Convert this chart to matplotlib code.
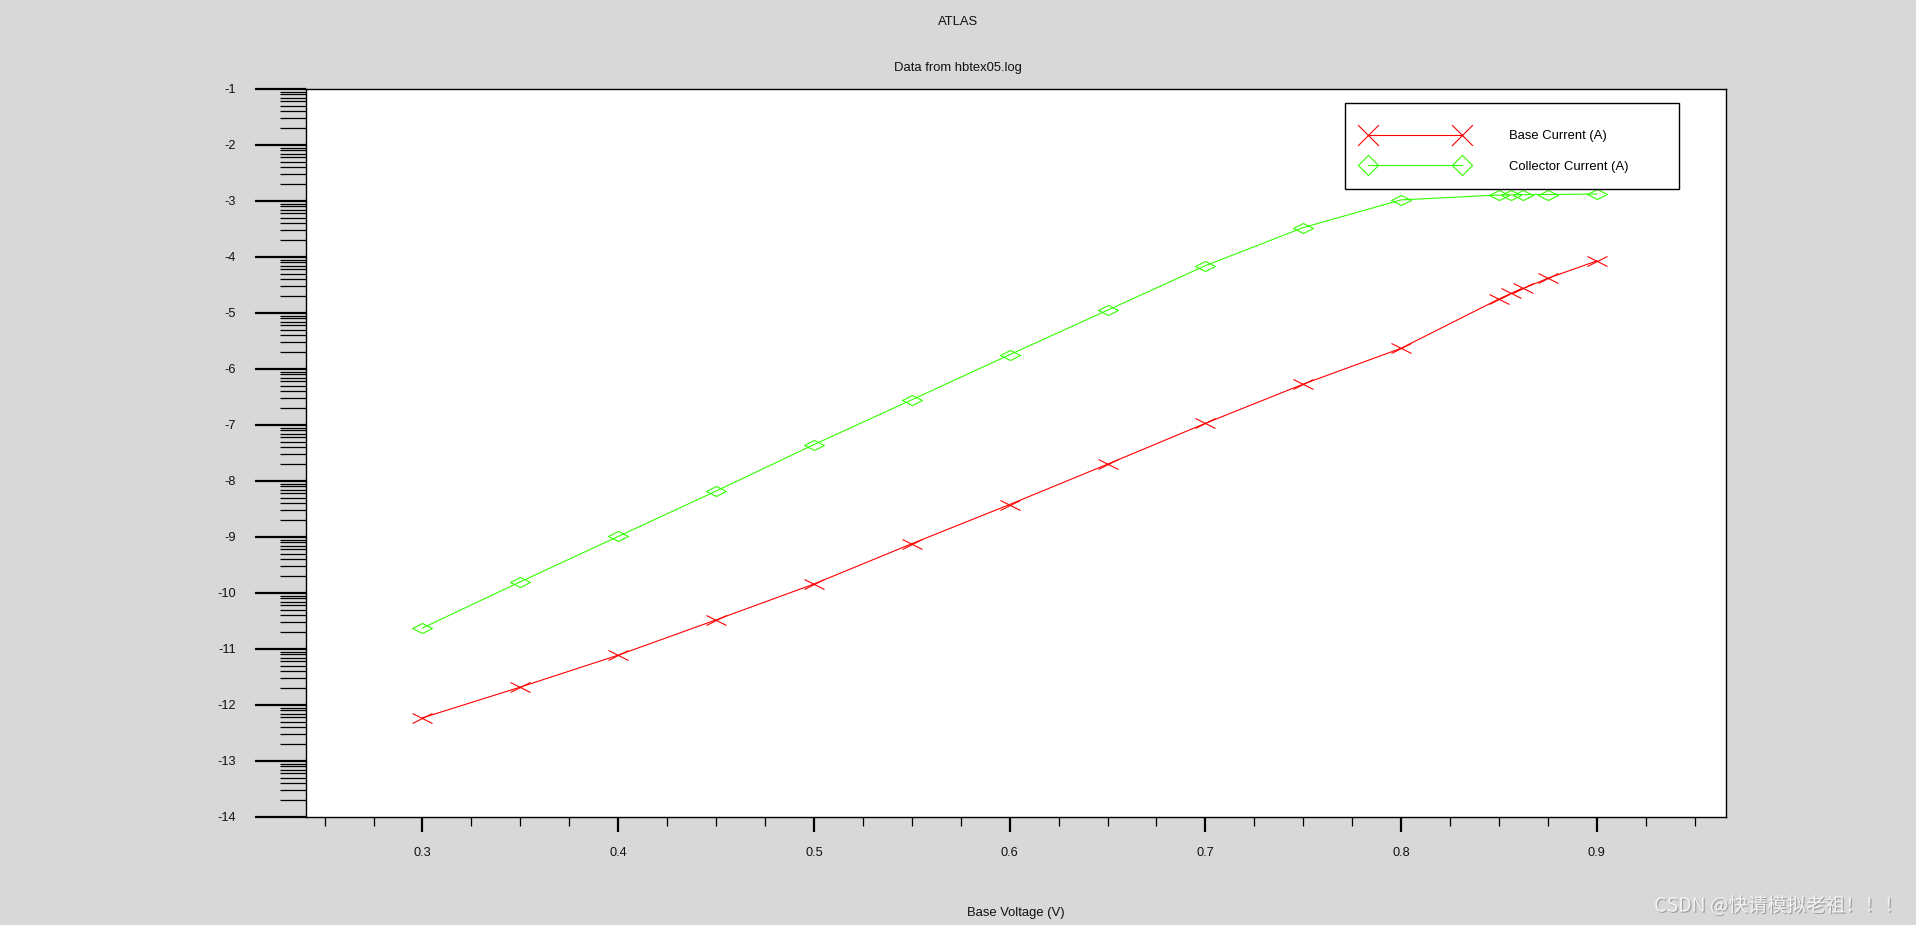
import matplotlib
matplotlib.use('Agg')
import math
import matplotlib.pyplot as plt
from matplotlib.path import Path
from matplotlib.lines import Line2D
from matplotlib.patches import Rectangle
from matplotlib.ticker import FixedLocator, FuncFormatter
import matplotlib.patheffects as pe

# ---------------- data ----------------
base_voltage = [0.3, 0.35, 0.4, 0.45, 0.5, 0.55, 0.6, 0.65, 0.7, 0.75, 0.8,
                0.85, 0.85625, 0.8625, 0.875, 0.9]
base_current_log = [-12.23, -11.68, -11.11, -10.48, -9.84, -9.12, -8.42, -7.70,
                    -6.97, -6.27, -5.63, -4.75, -4.65, -4.56, -4.38, -4.07]
collector_current_log = [-10.625, -9.80, -8.99, -8.18, -7.35, -6.55, -5.745, -4.95,
                         -4.155, -3.475, -2.98, -2.893, -2.89, -2.888, -2.884, -2.875]
x_major_ticks = [0.3, 0.4, 0.5, 0.6, 0.7, 0.8, 0.9]
y_major_ticks = [-14, -13, -12, -11, -10, -9, -8, -7, -6, -5, -4, -3, -2, -1]
series_labels = ["Base Current (A)", "Collector Current (A)"]
title_text = "ATLAS"
subtitle_text = "Data from hbtex05.log"
xlabel_text = "Base Voltage (V)"
watermark_text = "CSDN @快请模拟老祖！！！"

# ---------------- style ----------------
plt.rcParams['font.family'] = ['Liberation Sans', 'DejaVu Sans']
plt.rcParams['axes.unicode_minus'] = False
W, H, DPI = 1916, 925, 100
BG = '#d8d8d8'
RED = '#ff0000'
GREEN = '#33ff00'
FS = 9.4
TFS = 9.2

fig = plt.figure(figsize=(W / DPI, H / DPI), dpi=DPI, facecolor=BG)
L, R, T, B = 306, 1726, 89, 817
ax = fig.add_axes([L / W, 1 - B / H, (R - L) / W, (B - T) / H])
ax.set_facecolor('white')

flat_x = Path([(-1, -0.5), (1, 0.5), (-1, 0.5), (1, -0.5)],
              [Path.MOVETO, Path.LINETO, Path.MOVETO, Path.LINETO])
flat_d = Path([(0, 0.5), (1, 0), (0, -0.5), (-1, 0), (0, 0.5)],
              [Path.MOVETO, Path.LINETO, Path.LINETO, Path.LINETO, Path.CLOSEPOLY])
sq_x = Path([(-1, -1), (1, 1), (-1, 1), (1, -1)],
            [Path.MOVETO, Path.LINETO, Path.MOVETO, Path.LINETO])
sq_d = Path([(0, 1), (1, 0), (0, -1), (-1, 0), (0, 1)],
            [Path.MOVETO, Path.LINETO, Path.LINETO, Path.LINETO, Path.CLOSEPOLY])

ax.plot(base_voltage, base_current_log, color=RED, lw=0.8, marker=flat_x,
        ms=14.4, mfc='none', mec=RED, mew=0.8)
ax.plot(base_voltage, collector_current_log, color=GREEN, lw=0.8, marker=flat_d,
        ms=14.4, mfc='none', mec=GREEN, mew=0.8)

ax.set_xlim(0.2405, 0.966)
ax.set_ylim(-14, -1)

for s in ax.spines.values():
    s.set_linewidth(1.0)
    s.set_color('black')

# x ticks
x_minor = [0.25 + 0.025 * i for i in range(29)]
x_minor = [v for v in x_minor if min(abs(v - m) for m in x_major_ticks) > 1e-6]
ax.xaxis.set_major_locator(FixedLocator(x_major_ticks))
ax.xaxis.set_minor_locator(FixedLocator(x_minor))
ax.xaxis.set_major_formatter(FuncFormatter(lambda v, p: f"{v:.1f}"))

# y ticks (log-decade minor ticks)
y_minor = []
for n in y_major_ticks[:-1]:
    for k in range(2, 10):
        y_minor.append(n + math.log10(k))
ax.yaxis.set_major_locator(FixedLocator(y_major_ticks))
ax.yaxis.set_minor_locator(FixedLocator(y_minor))
ax.yaxis.set_major_formatter(FuncFormatter(lambda v, p: f"{int(round(v))}"))

ax.tick_params(axis='x', which='major', direction='out', length=10.8, width=1.6,
               pad=10.5, labelsize=TFS, colors='black', top=False)
ax.tick_params(axis='x', which='minor', direction='out', length=6.5, width=0.9, top=False)
ax.tick_params(axis='y', which='major', direction='out', length=36.7, width=1.6,
               pad=14.0, labelsize=TFS, colors='black', right=False)
ax.tick_params(axis='y', which='minor', direction='out', length=18.7, width=0.9, right=False)
for lab in ax.get_xticklabels() + ax.get_yticklabels():
    lab.set_color('#101010')

# legend: frame drawn as a fixed rectangle, entries placed by the legend
frame = Rectangle((1345 / W, 1 - 189 / H), 334 / W, 86 / H, transform=fig.transFigure,
                  facecolor='white', edgecolor='black', lw=1.0, zorder=4.9, clip_on=False)
ax.add_patch(frame)
leg_handles = [
    Line2D([], [], color=RED, lw=0.8, marker=sq_x, ms=15, mfc='none', mec=RED, mew=0.8),
    Line2D([], [], color=GREEN, lw=0.8, marker=sq_d, ms=14.5, mfc='none', mec=GREEN, mew=0.8),
]
leg = ax.legend(leg_handles, series_labels, loc='upper left',
                bbox_to_anchor=(1364 / W, 1 - 130.2 / H),
                bbox_transform=fig.transFigure, borderaxespad=0,
                numpoints=2, handlelength=7.8, handletextpad=3.3, borderpad=0,
                labelspacing=1.42, frameon=False, fontsize=FS)
leg.set_zorder(5)

# titles / labels
fig.text(958 / W, 1 - 21.7 / H, title_text, ha='center', va='center', fontsize=FS, color='#101010')
fig.text(958 / W, 1 - 68 / H, subtitle_text, ha='center', va='center', fontsize=FS, color='#101010')
fig.text(1016 / W, 1 - 913 / H, xlabel_text, ha='center', va='center', fontsize=FS, color='#101010')

fig.text(1904 / W, 1 - 906 / H, watermark_text, ha='right', va='center', fontsize=14,
         color='#f2f2f2', family=['Noto Sans CJK SC', 'DejaVu Sans'],
         path_effects=[pe.SimplePatchShadow(offset=(0.9, -0.9), shadow_rgbFace='#8a8a8a', alpha=0.7),
                       pe.Normal()])

fig.savefig('out.png', dpi=DPI, facecolor=BG)
